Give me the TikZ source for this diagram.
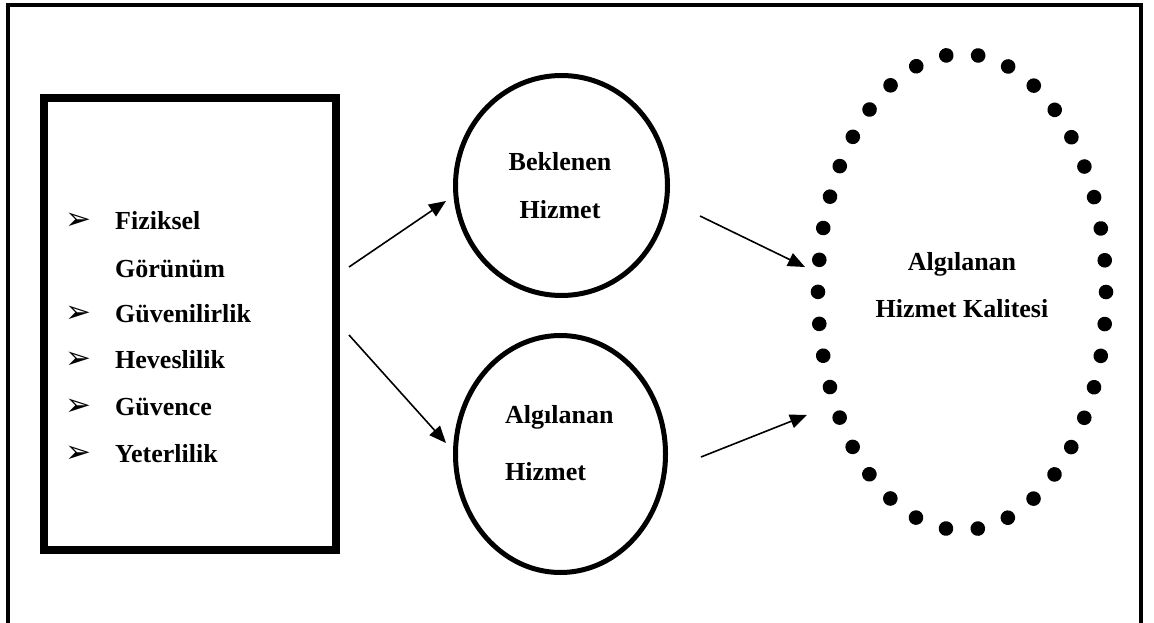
\documentclass[tikz,border=0pt]{standalone}
\usepackage{fontspec}
\setmainfont{Liberation Serif}
\newfontfamily\dejavu{DejaVu Sans}
\usetikzlibrary{arrows.meta,shapes.geometric,decorations.markings}
\begin{document}
\begin{tikzpicture}[x=1pt,y=-1pt,
  txt/.style={font=\fontsize{26}{30}\selectfont\bfseries, inner sep=0pt},
  bul/.style={font=\dejavu\fontsize{31}{31}\selectfont, inner sep=0pt},
  arr/.style={line width=1.6pt, -{Triangle[length=17pt,width=14pt]}},
  circ/.style={ellipse, draw, line width=5pt, inner sep=0pt, outer sep=0pt},
  dots/.style={decoration={markings, mark=between positions 0 and 0.99 step 0.0263158 with {\fill (0pt,0pt) circle (7.3pt);}}, decorate}]
\useasboundingbox (0,0) rectangle (1154,623);
\fill[white] (0,0) rectangle (1154,623);
% outer frame
\draw[line width=3.5pt] (8,640) -- (8,5) -- (1141,5) -- (1141,640);
% left box
\node[draw, line width=8pt, minimum width=292pt, minimum height=451pt, inner sep=0pt, outer sep=0pt] (box) at (190,324) {};
\node[bul] (b1) at (78,221) {➢};
\node[txt, anchor=base west] (l1) at (115,229) {Fiziksel};
\node[txt, anchor=base west] (l1b) at (115,277) {Görünüm};
\node[bul] (b2) at (78,314) {➢};
\node[txt, anchor=base west] (l2) at (115,322) {Güvenilirlik};
\node[bul] (b3) at (78,360) {➢};
\node[txt, anchor=base west] (l3) at (115,368) {Heveslilik};
\node[bul] (b4) at (78,407) {➢};
\node[txt, anchor=base west] (l4) at (115,415) {Güvence};
\node[bul] (b5) at (78,454) {➢};
\node[txt, anchor=base west] (l5) at (115,462) {Yeterlilik};
% circles
\node[circ, minimum width=212pt, minimum height=220pt] (bek) at (561.5,185.5) {};
\node[txt, anchor=base] (bek1) at (560,171) {Beklenen};
\node[txt, anchor=base] (bek2) at (560,218) {Hizmet};
\node[circ, minimum width=210pt, minimum height=237pt] (alg) at (560.5,454) {};
\node[txt, anchor=base west] (alg1) at (505,423) {Algılanan};
\node[txt, anchor=base west] (alg2) at (505,480) {Hizmet};
% dotted ellipse
\node[ellipse, minimum width=288pt, minimum height=476pt, inner sep=0pt] (kal) at (962,292) {};
\path[dots] (kal.center) ellipse [x radius=144, y radius=238];
\node[txt, anchor=base] (kal1) at (962,270) {Algılanan};
\node[txt, anchor=base] (kal2) at (962,317.5) {Hizmet Kalitesi};
% arrows
\coordinate (a1s) at (349,267); \coordinate (a1e) at (446,201);
\coordinate (a2s) at (349,335); \coordinate (a2e) at (446,443);
\coordinate (a3s) at (700,216); \coordinate (a3e) at (805,267);
\coordinate (a4s) at (701,457); \coordinate (a4e) at (807,415);
\draw[arr] (a1s) -- (a1e);
\draw[arr] (a2s) -- (a2e);
\draw[arr] (a3s) -- (a3e);
\draw[arr] (a4s) -- (a4e);
\end{tikzpicture}
\end{document}
